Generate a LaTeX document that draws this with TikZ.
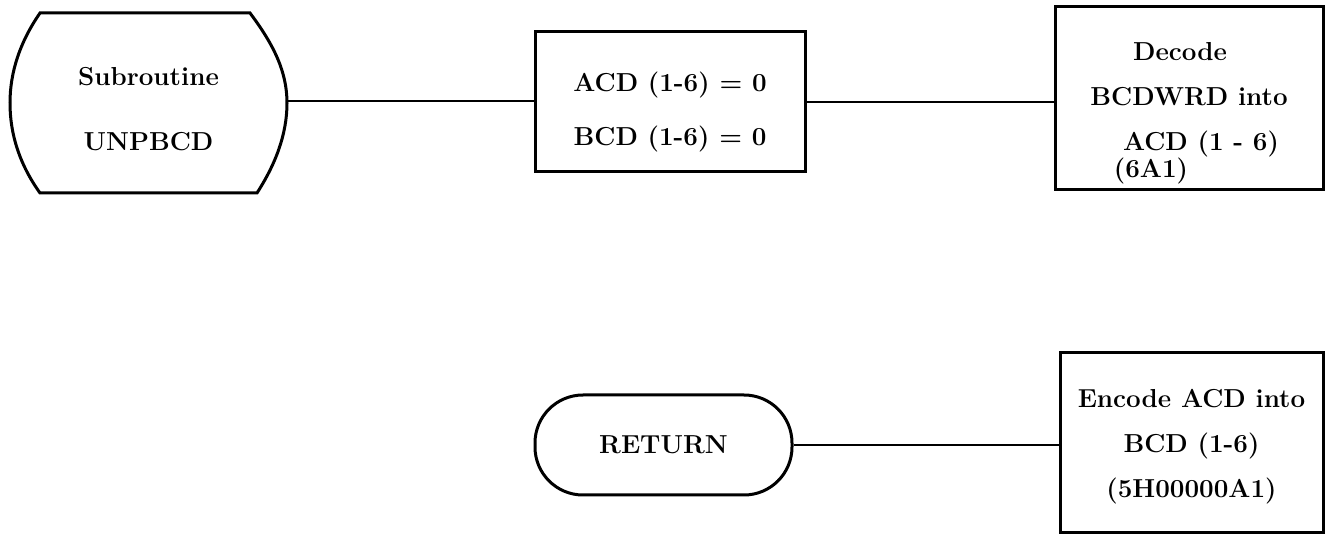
\documentclass[tikz,border=0pt]{standalone}
\usetikzlibrary{calc}
\begin{document}
\begin{tikzpicture}[x=1pt,y=-1pt,line width=3pt,
  every node/.style={font=\fontsize{26}{45}\selectfont\bfseries},
  procbox/.style={draw,rectangle,inner sep=0pt},
  boxtext/.style={align=center,inner sep=0pt},
  termbox/.style={draw,rectangle,rounded corners=48pt,inner sep=0pt},
  link/.style={line width=2.2pt}]
\useasboundingbox (0,0) rectangle (1326,534);
% Subroutine terminal
\node[boxtext,minimum width=277,minimum height=180,
  font=\fontsize{26}{65}\selectfont\bfseries] (sub) at (148.5,109) {Subroutine\\UNPBCD};
\draw (145,13) -- (250,13)
  .. controls (274,45) and (287,72) .. (287,103)
  .. controls (287,135) and (275,165) .. (257,193)
  -- (40,193)
  .. controls (20,165) and (10,135) .. (10,103)
  .. controls (10,72) and (20,42) .. (40,13) -- cycle;
\coordinate (subR) at (287,101);
% init box
\node[procbox,minimum width=270,minimum height=140] (b2) at (670,102) {};
\node[boxtext,font=\fontsize{26}{54}\selectfont\bfseries] (b2t) at (670,112)
  {ACD (1-6) = 0\\BCD (1-6) = 0};
% decode box
\node[procbox,minimum width=268,minimum height=183] (d) at (1189,98.5) {};
\node[boxtext] (dt) at (1189,113)
  {Decode\hspace*{18pt}\\BCDWRD into\\\hspace*{24pt}ACD (1 - 6)\\[-18pt](6A1)\hspace*{76pt}};
% encode box
\node[procbox,minimum width=263,minimum height=179] (e) at (1191.5,442.5) {};
\node[boxtext] (et) at (1191.5,446.5)
  {Encode ACD into\\BCD (1-6)\\(5H00000A1)};
% return terminal
\node[termbox,minimum width=257,minimum height=100] (r) at (663.5,445) {RETURN};
% connectors
\draw[link] (subR) -- (subR -| b2.west);
\draw[link] (b2.east) -- (b2.east -| d.west);
\draw[link] ($(d.south)+(4,0)$) -- ($(d.south)+(4,0)$ |- e.north);
\draw[link] (r.east) -- (r.east -| e.west);
\end{tikzpicture}
\end{document}
